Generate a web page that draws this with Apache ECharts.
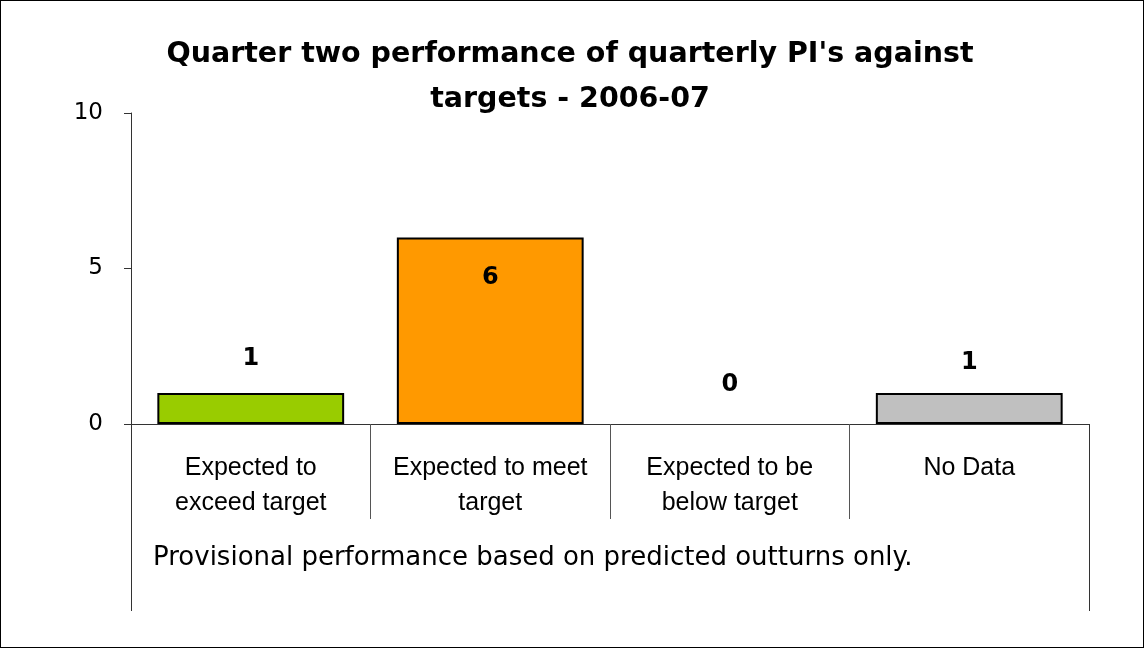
<!DOCTYPE html>
<html>
<head>
<meta charset="utf-8">
<script src="https://cdn.jsdelivr.net/npm/echarts@6/dist/echarts.min.js"></script>
<style>
  html, body { margin: 0; padding: 0; background: #fff; }
  #chart { width: 1144px; height: 648px; box-sizing: border-box; border: 1px solid #000; }
</style>
</head>
<body>
<div id="chart"></div>
<script>
// data
const categories = ['Expected to\nexceed target', 'Expected to meet\ntarget', 'Expected to be\nbelow target', 'No Data']
const counts = [1, 6, 0, 1]
const barColors = ['#99CC00', '#FF9900', '#FFFFFF', '#C0C0C0']
const yTicks = [0, 5, 10]
const titleText = "Quarter two performance of quarterly PI's against\ntargets - 2006-07"
const noteText = 'Provisional performance based on predicted outturns only.'

const sans = 'Liberation Sans, Arial, sans-serif'
const wide = 'DejaVu Sans, Liberation Sans, sans-serif'
// label placement per bar (Excel put them a bit off the bar)
const labelPos = [
  { position: 'top', distance: 22 },
  { position: 'insideTop', distance: 28 },
  { position: 'top', distance: 27 },
  { position: 'top', distance: 18 }
]

const chart = echarts.init(document.getElementById('chart'))

chart.setOption({
  backgroundColor: '#fff',
  animation: false,
  title: [
    {
      text: titleText,
      left: 569,
      top: 31,
      padding: 0,
      textAlign: 'center',
      textStyle: { fontFamily: wide, fontSize: 28.5, fontWeight: 'bold', color: '#000', lineHeight: 45 }
    },
    {
      text: noteText,
      left: 152,
      top: 542,
      padding: 0,
      textStyle: { fontFamily: wide, fontSize: 26, fontWeight: 'normal', color: '#000', lineHeight: 30 }
    }
  ],
  grid: { left: 130, right: 54, top: 112, bottom: 223, containLabel: false },
  xAxis: [
    {
      type: 'category',
      data: categories,
      axisLine: { show: true, lineStyle: { color: '#333', width: 1 } },
      axisTick: { show: true, length: 95, lineStyle: { color: '#555', width: 1 } },
      axisLabel: { fontFamily: sans, fontSize: 25, color: '#000', lineHeight: 35, margin: 27, interval: 0 },
      splitLine: { show: false }
    },
    {
      // only used for the two long outer lines of the table
      type: 'category',
      data: [''],
      position: 'bottom',
      axisLine: { show: false },
      axisTick: { show: true, length: 187, lineStyle: { color: '#333', width: 1 } },
      axisLabel: { show: false }
    }
  ],
  yAxis: {
    type: 'value',
    min: yTicks[0],
    max: yTicks[yTicks.length - 1],
    interval: 5,
    axisLine: { show: true, lineStyle: { color: '#333', width: 1 } },
    axisTick: { show: true, length: 7, lineStyle: { color: '#333' } },
    axisLabel: { fontFamily: wide, fontSize: 23, color: '#000', margin: 28 },
    splitLine: { show: false }
  },
  series: [{
    type: 'bar',
    barCategoryGap: '22%',
    data: counts.map((v, i) => ({
      value: v,
      itemStyle: { color: barColors[i], borderColor: '#000', borderWidth: v > 0 ? 2 : 0 },
      label: labelPos[i]
    })),
    label: {
      show: true,
      fontFamily: wide,
      fontSize: 24,
      fontWeight: 'bold',
      color: '#000'
    }
  }]
})
</script>
</body>
</html>
